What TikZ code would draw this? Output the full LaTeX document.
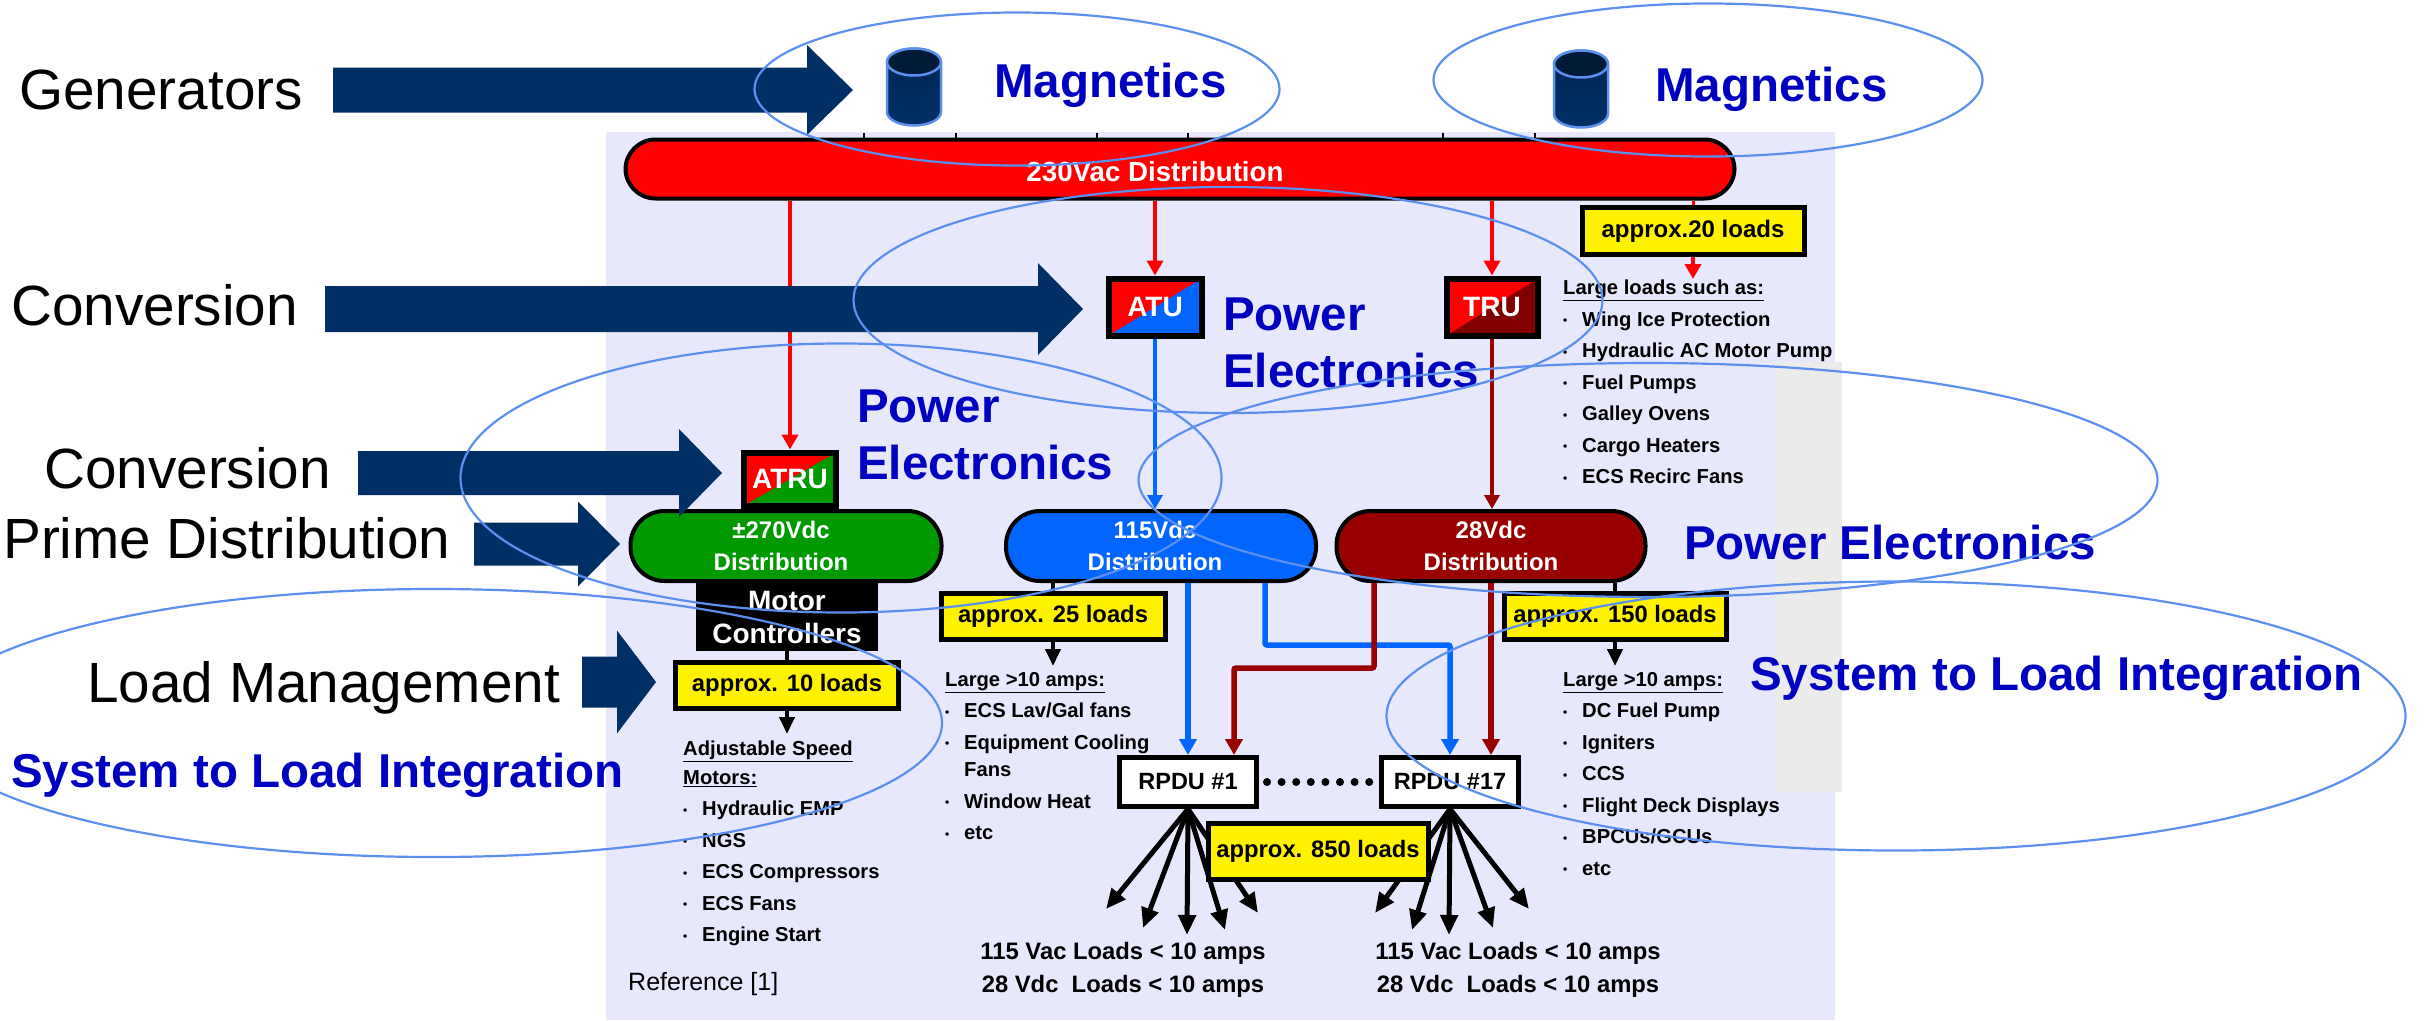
\documentclass[tikz,border=0pt]{standalone}
\usepackage{fontspec}
\setmainfont{Liberation Sans}
\usetikzlibrary{arrows.meta,shapes.geometric,calc}
\definecolor{navy}{HTML}{002F66}
\definecolor{panelbg}{HTML}{E8E8FC}
\definecolor{stripbg}{HTML}{EBEBEB}
\definecolor{ringblue}{HTML}{5B8FF0}
\definecolor{titleblue}{HTML}{0000C0}
\definecolor{busblue}{HTML}{0066FF}
\definecolor{busgreen}{HTML}{009900}
\definecolor{busmaroon}{HTML}{990000}
\newcommand{\itm}[1]{\makebox[19pt][l]{\raisebox{1.5pt}{\fontsize{12}{12}\selectfont\textbullet}}#1}
\begin{document}
\begin{tikzpicture}[x=1pt,y=-1pt,
        sidelabel/.style={anchor=base west, font=\fontsize{56.7}{60}\selectfont, inner sep=0},
        bluelabel/.style={anchor=base west, text=titleblue, font=\fontsize{47.5}{57}\selectfont\bfseries, inner sep=0},
        bus/.style={draw=black, line width=4, rounded corners=#1, text=white, align=center, inner sep=0,
            font=\fontsize{24}{32}\selectfont\bfseries, execute at begin node={\rule{0pt}{26pt}}},
        splitbox/.style 2 args={draw=black, line width=6, fill=#2, inner sep=0, text=white,
            font=\fontsize{28}{32}\selectfont\bfseries,
            path picture={\fill[#1] (path picture bounding box.north west) -- (path picture bounding box.north east)
                -- (path picture bounding box.south west) -- cycle;}},
        loadbox/.style={draw=black, fill=yellow, line width=5, inner sep=0, font=\fontsize{23.8}{28}\selectfont\bfseries},
        rpdu/.style={draw=black, fill=white, line width=5, inner sep=0, minimum width=137, minimum height=49,
            font=\fontsize{23.5}{28}\selectfont\bfseries},
        listtext/.style={anchor=north west, align=left, inner sep=0, font=\fontsize{20.2}{31.5}\selectfont\bfseries},
        foottext/.style={align=center, inner sep=0, font=\fontsize{23.8}{33}\selectfont\bfseries},
        ring/.style={ellipse, draw=ringblue, line width=2.2, inner sep=0},
        redarrow/.style={draw=red, line width=4, -{Triangle[length=15pt,width=16pt]}},
        feedarrow/.style={line width=3.5, -{Triangle[length=14pt,width=15pt]}},
        bluearrow/.style={draw=busblue, line width=5.5, -{Triangle[length=16pt,width=17pt]}},
        maroonarrow/.style={draw=busmaroon, line width=5.5, -{Triangle[length=16pt,width=17pt]}},
        blackarrow/.style={draw=black, line width=4, -{Triangle[length=17pt,width=15pt]}},
        fanarrow/.style={draw=black, line width=5, -{Triangle[length=20pt,width=17pt]}}
    ]
    \useasboundingbox (0,0) rectangle (2425,1020);
    \fill[panelbg] (606,132) rectangle (1835,1020);
    \fill[stripbg] (1775,362) rectangle (1842,792);
    % generators on top of the bus
    \foreach \tickx in {864,956,1097,1188,1443,1535}
        \draw[line width=1.5] (\tickx,133) -- (\tickx,140);
    \foreach \cx/\cy in {914/62,1581/64} {
        \draw[draw=ringblue, line width=2.5, top color=navy!80!black, bottom color=navy]
            (\cx-27,\cy) -- (\cx-27,\cy+50) arc[start angle=180, end angle=360, x radius=27, y radius=-13.5]
            -- (\cx+27,\cy) arc[start angle=0, end angle=180, x radius=27, y radius=-13.5] -- cycle;
        \draw[draw=ringblue, line width=2.5, fill=navy!55!black] (\cx,\cy) ellipse (27 and 13.5);
    }
    \node[bus=30, fill=red, minimum width=1109, minimum height=59, font=\fontsize{27.7}{32}\selectfont\bfseries] (acbus) at (1180,169) {\hspace*{-50pt}230Vac Distribution};
    % converters
    \node[splitbox={red}{busblue}, minimum width=93, minimum height=57] (atu) at (1155,307) {ATU};
    \node[splitbox={red}{black!50!red}, minimum width=91, minimum height=57] (tru) at (1492,307) {TRU};
    \node[splitbox={red}{busgreen}, minimum width=92, minimum height=53] (atru) at (790,479) {ATRU};
    % dc buses
    \node[bus=34, fill=busgreen, minimum width=311, minimum height=70] (dc270) at (786,546) {\hspace*{-10pt}±270Vdc\\\hspace*{-10pt}Distribution};
    \node[bus=34, fill=busblue, minimum width=310, minimum height=70] (dc115) at (1161,546) {\hspace*{-12pt}115Vdc\\\hspace*{-12pt}Distribution};
    \node[bus=34, fill=busmaroon, minimum width=309, minimum height=70] (dc28) at (1491,546) {28Vdc\\Distribution};
    \node[fill=black, text=white, align=center, inner sep=0, minimum width=182, minimum height=68,
        font=\fontsize{28}{33}\selectfont\bfseries] (motor) at (787,617) {Motor\\Controllers};
    % load boxes
    \node[loadbox, minimum width=222, minimum height=47, font=\fontsize{24}{28}\selectfont\bfseries] (load20) at (1693,231) {approx.20 loads};
    \node[loadbox, minimum width=223, minimum height=46] (load10) at (787,685) {approx. 10 loads};
    \node[loadbox, minimum width=224, minimum height=46] (load25) at (1053,616) {approx. 25 loads};
    \node[loadbox, minimum width=222, minimum height=46] (load150) at (1615,616) {approx. 150 loads};
    \node[rpdu] (rp1) at (1188,782) {RPDU \#1};
    \node[rpdu] (rp17) at (1450,782) {RPDU \#17};
    % feeders
    \draw[redarrow] (acbus.south -| atru.north) -- (atru.north);
    \draw[redarrow] (acbus.south -| atu.north) -- (atu.north);
    \draw[redarrow] (acbus.south -| tru.north) -- (tru.north);
    \draw[draw=red, line width=3] (acbus.south -| load20.north) -- (load20.north);
    \coordinate (large20) at (1693,279);
    \draw[redarrow] (load20.south) -- (large20);
    \draw[feedarrow, draw=busblue] (atu.south) -- (atu.south |- dc115.north);
    \draw[feedarrow, draw=busmaroon] (tru.south) -- (tru.south |- dc28.north);
    \coordinate (bluebend) at (1450,645);
    \coordinate (maroonbend) at (1234,668);
    \draw[bluearrow] (dc115.south -| rp1.north) -- (rp1.north);
    \draw[bluearrow, rounded corners=2pt] ([xshift=104pt]dc115.south) |- (bluebend) -- (rp17.north);
    \draw[maroonarrow, rounded corners=2pt] ([xshift=-117pt]dc28.south) |- (maroonbend) -- (maroonbend |- rp1.north);
    \draw[maroonarrow] (dc28.south) -- (dc28.south |- rp17.north);
    \draw[draw=black, line width=4] (motor.south) -- (load10.north);
    \draw[draw=black, line width=4] (dc115.south -| load25.north) -- (load25.north);
    \draw[draw=black, line width=4] (dc28.south -| load150.north) -- (load150.north);
    \coordinate (large10) at (787,734);
    \coordinate (large25) at (1053,666);
    \coordinate (large150) at (1615,666);
    \draw[blackarrow] (load10.south) -- (large10);
    \draw[blackarrow] (load25.south) -- (large25);
    \draw[blackarrow] (load150.south) -- (large150);
    \draw[line width=8, line cap=round, dash pattern=on 0pt off 14.6pt, shorten >=8pt, shorten <=8pt] (rp1.east) -- (rp17.west);
    % load fans
    \foreach \i/\ex/\ey in {1/1106/909,2/1143/928,3/1187/935,4/1225/930,5/1258/913} {
        \coordinate (fana\i) at (\ex,\ey);
        \draw[fanarrow] (rp1.south) -- (fana\i);
    }
    \foreach \i/\ex/\ey in {1/1375/913,2/1412/930,3/1449/935,4/1493/928,5/1529/909} {
        \coordinate (fanb\i) at (\ex,\ey);
        \draw[fanarrow] (rp17.south) -- (fanb\i);
    }
    \node[loadbox, minimum width=220, minimum height=56] (load850) at (1318,851) {approx. 850 loads};
    % lists
    \node[listtext] (listac) at (1563,280) {\underline{Large loads such as:}\\\itm{Wing Ice Protection}\\\itm{Hydraulic AC Motor Pump}\\\itm{Fuel Pumps}\\\itm{Galley Ovens}\\\itm{Cargo Heaters}\\\itm{ECS Recirc Fans}};
    \node[listtext] (listmotor) at (683,741) {\underline{Adjustable Speed}\\[-3pt]\underline{Motors:}\\\itm{Hydraulic EMP}\\\itm{NGS}\\\itm{ECS Compressors}\\\itm{ECS Fans}\\\itm{Engine Start}};
    \node[listtext] (listac115) at (945,672) {\underline{Large >10 amps:}\\\itm{ECS Lav/Gal fans}\\\itm{Equipment Cooling}\\[-4pt]\hspace*{19pt}Fans\\\itm{Window Heat}\\\itm{etc}};
    \node[listtext] (listdc28) at (1563,672) {\underline{Large >10 amps:}\\\itm{DC Fuel Pump}\\\itm{Igniters}\\\itm{CCS}\\\itm{Flight Deck Displays}\\\itm{BPCUs/GCUs}\\\itm{etc}};
    \node[foottext] (foot1) at (1123,970) {115 Vac Loads < 10 amps\\28 Vdc\ \ Loads < 10 amps};
    \node[foottext] (foot2) at (1518,970) {115 Vac Loads < 10 amps\\28 Vdc\ \ Loads < 10 amps};
    \node[anchor=base west, inner sep=0, font=\fontsize{25}{30}\selectfont] (refnote) at (628,990) {Reference [1]};
    % big arrows: tail, head base, tip, middle, half body, half head
    \foreach \tail/\hbase/\tip/\mid/\hb/\hh in {333/807/853/90/22.5/45,325/1038/1083/309/23/46,358/679/722/473/22/44,474/578/620/544/21.5/42.5,582/617/656/682/25.5/51.5}
        \fill[navy] (\tail,{\mid-\hb}) -- (\hbase,{\mid-\hb}) -- (\hbase,{\mid-\hh}) -- (\tip,\mid)
            -- (\hbase,{\mid+\hh}) -- (\hbase,{\mid+\hb}) -- (\tail,{\mid+\hb}) -- cycle;
    \node[sidelabel] (lgen) at (19,109) {Generators};
    \node[sidelabel] (lconv) at (11,325) {Conversion};
    \node[sidelabel] (lconvb) at (44,488) {Conversion};
    \node[sidelabel] (lprime) at (3,558) {Prime Distribution};
    \node[sidelabel] (lload) at (87,702) {Load Management};
    \node[bluelabel] (mag1) at (994,97) {Magnetics};
    \node[bluelabel] (mag2) at (1655,101) {Magnetics};
    \node[bluelabel, anchor=north west, align=left] (pe1) at (1223,298) {Power\\Electronics};
    \node[bluelabel, anchor=north west, align=left] (pe2) at (857,390) {Power\\Electronics};
    \node[bluelabel] (pe3) at (1684,559) {Power Electronics};
    \node[bluelabel] (sys1) at (11,787) {System to Load Integration};
    \node[bluelabel] (sys2) at (1750,690) {System to Load Integration};
    % rings over everything
    \node[ring, minimum width=525, minimum height=153] (ringmaga) at (1017,89) {};
    \node[ring, minimum width=549, minimum height=153] (ringmagb) at (1708,80) {};
    \node[ring, minimum width=749, minimum height=226] (ringpea) at (1228,300) {};
    \node[ring, minimum width=761, minimum height=269] (ringpeb) at (841,478) {};
    \node[ring, minimum width=1019, minimum height=234] (ringpec) at (1648,480) {};
    \node[ring, minimum width=1016, minimum height=268] (ringsysa) at (434,723) {};
    \node[ring, minimum width=1019, minimum height=269] (ringsysb) at (1896,716) {};
\end{tikzpicture}
\end{document}
